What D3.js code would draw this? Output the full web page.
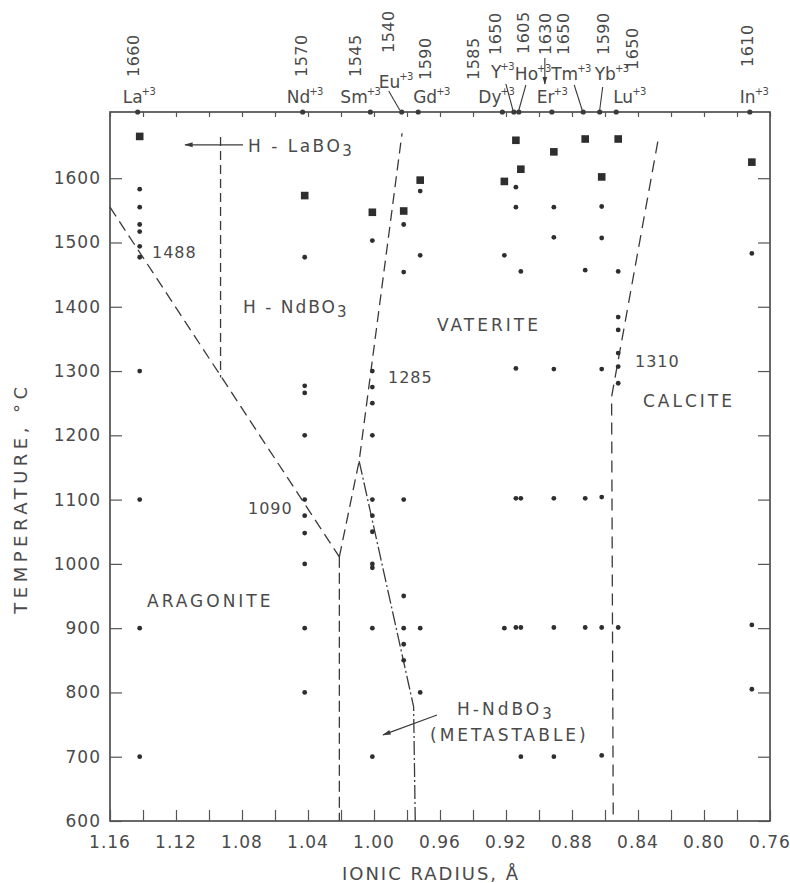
<!DOCTYPE html>
<html>
<head>
<meta charset="utf-8">
<script src="https://cdn.jsdelivr.net/npm/d3@7"></script>
<style>
  body { margin: 0; background: #fff; }
  text { font-family: "DejaVu Sans", sans-serif; fill: #4a4a4a; }
</style>
</head>
<body>
<svg id="chart"></svg>
<script>
// ions along the top axis
const elements = ['La', 'Nd', 'Sm', 'Eu', 'Gd', 'Dy', 'Y', 'Ho', 'Er', 'Tm', 'Yb', 'Lu', 'In'];
const radii = [1.142, 1.042, 1.001, 0.982, 0.972, 0.921, 0.914, 0.911, 0.891, 0.872, 0.862, 0.852, 0.771];
const meltLabels = ['1660', '1570', '1545', '1540', '1590', '1585', '1650', '1605', '1630', '1650', '1590', '1650', '1610'];
// melting points (squares)
const meltTemps = [1665, 1573, 1547, 1549, 1597, 1595, 1659, 1614, 1641, 1661, 1602, 1661, 1625];
// quench runs (dots), one list per ion
const runTemps = [
  [1583, 1555, 1528, 1517, 1494, 1477, 1300, 1100, 900, 700],
  [1477, 1277, 1266, 1200, 1100, 1075, 1048, 1000, 900, 800],
  [1503, 1300, 1275, 1250, 1200, 1100, 1075, 1050, 1000, 994, 900, 700],
  [1528, 1454, 1100, 950, 900, 875, 850],
  [1580, 1480, 900, 800],
  [1480, 900],
  [1586, 1555, 1304, 1102, 901],
  [1455, 1102, 901, 700],
  [1555, 1508, 1303, 1102, 901, 700],
  [1457, 1102, 901],
  [1556, 1507, 1303, 1104, 901, 702],
  [1455, 1384, 1364, 1328, 1307, 1281, 901],
  [1483, 905, 805],
];

// phase boundaries [radius, temperature]
const bdyAragonite = [[1.16, 1555], [1.021, 1011]];
const bdyLaBO3 = [[1.093, 1664], [1.093, 1290]];
const bdyVaterite = [[1.021, 1011], [1.009, 1160], [0.983, 1670]];
const bdyNdVert = [[1.021, 1011], [1.021, 600]];
const bdyMetastable = [[1.009, 1160], [0.976, 778], [0.975, 600]];
const bdyCalcite = [[0.828, 1657], [0.856, 1260], [0.855, 600]];

const xTicks = [1.16, 1.12, 1.08, 1.04, 1.00, 0.96, 0.92, 0.88, 0.84, 0.80, 0.76];
const yTicks = [600, 700, 800, 900, 1000, 1100, 1200, 1300, 1400, 1500, 1600];

// label placement for the top axis: name dx, name baseline, number dx, number bottom, arrow
const topLayout = [
  { ndx: -17, ny: 103, mdx: -7, my: 77 },
  { ndx: -18, ny: 103, mdx: -4, my: 77 },
  { ndx: -32, ny: 103, mdx: -17, my: 77 },
  { ndx: -25, ny: 88, mdx: -16, my: 53, arrow: [-15, 91, -4, 110] },
  { ndx: -7, ny: 103, mdx: 5, my: 80 },
  { ndx: -26, ny: 103, mdx: -31, my: 80 },
  { ndx: -25, ny: 78, mdx: -21, my: 55, arrow: [-10, 84, -3, 110] },
  { ndx: -6, ny: 80, mdx: 2, my: 54, arrow: [5, 85, -2, 110] },
  { ndx: -17, ny: 103, mdx: -9, my: 55, arrow: [-9, 58, -9, 84], head: true },
  { ndx: -34, ny: 80, mdx: -22, my: 55, arrow: [-11, 85, -3, 110] },
  { ndx: -7, ny: 80, mdx: 1, my: 55, arrow: [1, 87, -2, 110] },
  { ndx: -5, ny: 103, mdx: 14, my: 70 },
  { ndx: -12, ny: 103, mdx: -5, my: 67 },
];

const W = 790, H = 883;
const margin = { left: 110, right: 20, top: 112, bottom: 62 };
const ink = '#3a3a3a';

const svg = d3.select('#chart').attr('width', W).attr('height', H);

const x = d3.scaleLinear().domain([1.16, 0.76]).range([margin.left, W - margin.right]);
const y = d3.scaleLinear().domain([600, 1703]).range([H - margin.bottom, margin.top]);

svg.append('defs').append('marker')
  .attr('id', 'head').attr('viewBox', '0 0 10 10').attr('refX', 9).attr('refY', 5)
  .attr('markerWidth', 9).attr('markerHeight', 7).attr('orient', 'auto')
  .append('path').attr('d', 'M0,2 L10,5 L0,8 Z').attr('fill', ink);

// frame
svg.append('rect')
  .attr('x', x(1.16)).attr('y', y(1703))
  .attr('width', x(0.76) - x(1.16)).attr('height', y(600) - y(1703))
  .attr('fill', 'none').attr('stroke', '#444').attr('stroke-width', 1.6);

// axes: ticks point inward
const gx = svg.append('g').attr('transform', `translate(0,${y(600)})`)
  .call(d3.axisBottom(x).tickValues(d3.range(0, 21).map((i) => 1.16 - i * 0.02)).tickSize(-11).tickFormat(''));
const gxTop = svg.append('g').attr('transform', `translate(0,${y(1703)})`)
  .call(d3.axisTop(x).tickValues(d3.range(0, 21).map((i) => 1.16 - i * 0.02)).tickSize(-5).tickFormat(''));
const gy = svg.append('g').attr('transform', `translate(${x(1.16)},0)`)
  .call(d3.axisLeft(y).tickValues(yTicks).tickSize(-12).tickFormat(''));
const gyR = svg.append('g').attr('transform', `translate(${x(0.76)},0)`)
  .call(d3.axisRight(y).tickValues(yTicks).tickSize(-12).tickFormat(''));
[gx, gxTop, gy, gyR].forEach((g) => {
  g.select('.domain').remove();
  g.selectAll('.tick line').attr('stroke', '#555').attr('stroke-width', 1.2);
});

// tick labels
svg.append('g').selectAll('text').data(xTicks).join('text')
  .attr('x', (d) => x(d)).attr('y', y(600) + 27)
  .attr('text-anchor', 'middle').attr('font-size', 17).attr('letter-spacing', 1)
  .text((d) => d.toFixed(2));
svg.append('g').selectAll('text').data(yTicks).join('text')
  .attr('x', x(1.16) - 9).attr('y', (d) => y(d) + 6)
  .attr('text-anchor', 'end').attr('font-size', 17).attr('letter-spacing', 1)
  .text((d) => d);

// axis titles
svg.append('text')
  .attr('transform', `translate(27,498) rotate(-90)`)
  .attr('text-anchor', 'middle').attr('font-size', 18).attr('letter-spacing', 4.5)
  .text('TEMPERATURE, °C');
svg.append('text')
  .attr('x', 431).attr('y', 880)
  .attr('text-anchor', 'middle').attr('font-size', 18).attr('letter-spacing', 2)
  .text('IONIC RADIUS, Å');

// phase boundaries
const line = d3.line().x((d) => x(d[0])).y((d) => y(d[1]));
const bdy = svg.append('g').attr('fill', 'none').attr('stroke', ink).attr('stroke-width', 1.3);
bdy.append('path').attr('d', line(bdyAragonite)).attr('stroke-dasharray', '11,6');
bdy.append('path').attr('d', line(bdyLaBO3)).attr('stroke-dasharray', '9,5');
bdy.append('path').attr('d', line(bdyVaterite)).attr('stroke-dasharray', '11,6');
bdy.append('path').attr('d', line(bdyNdVert)).attr('stroke-dasharray', '11,5');
bdy.append('path').attr('d', line(bdyMetastable)).attr('stroke-dasharray', '14,3,2,3');
bdy.append('path').attr('d', line(bdyCalcite)).attr('stroke-dasharray', '12,7');

// top-axis ion markers
svg.append('g').selectAll('circle').data(radii).join('circle')
  .attr('cx', (d) => x(d) - 2).attr('cy', y(1703)).attr('r', 2.6).attr('fill', ink);

// melting points
svg.append('g').selectAll('rect').data(meltTemps).join('rect')
  .attr('x', (d, i) => x(radii[i]) - 3.8).attr('y', (d) => y(d) - 3.8)
  .attr('width', 7.6).attr('height', 7.6).attr('fill', '#2e2e2e');

// quench runs
const runs = runTemps.flatMap((ts, i) => ts.map((t) => [radii[i], t]));
svg.append('g').selectAll('circle').data(runs).join('circle')
  .attr('cx', (d) => x(d[0])).attr('cy', (d) => y(d[1])).attr('r', 2.4).attr('fill', '#2e2e2e');

// top labels: ions and melting temperatures
const topG = svg.append('g');
elements.forEach((el, i) => {
  const cx = x(radii[i]);
  const L = topLayout[i];
  const t = topG.append('text').attr('x', cx + L.ndx).attr('y', L.ny).attr('font-size', 17);
  t.append('tspan').text(el);
  t.append('tspan').attr('dx', -1).attr('dy', -8).attr('font-size', 10).attr('letter-spacing', -0.5).text('+3');
  topG.append('text')
    .attr('transform', `translate(${cx + L.mdx + 6},${L.my}) rotate(-90)`)
    .attr('font-size', 16).attr('letter-spacing', 0.5)
    .text(meltLabels[i]);
  if (L.arrow) {
    const a = L.arrow;
    topG.append('line')
      .attr('x1', cx + a[0]).attr('y1', a[1]).attr('x2', cx + a[2]).attr('y2', a[3])
      .attr('stroke', ink).attr('stroke-width', 1.1)
      .attr('marker-end', L.head ? 'url(#head)' : null);
  }
});

// field labels
const labels = svg.append('g').attr('font-size', 17).attr('letter-spacing', 3);
const chem = (px, py, parts, sp) => {
  const t = labels.append('text').attr('x', px).attr('y', py).attr('letter-spacing', sp);
  t.append('tspan').text(parts[0]);
  t.append('tspan').attr('dy', 4).attr('font-size', 15).text(parts[1]);
  return t;
};
chem(248, 152, ['H - LaBO', '3'], 2.5);
chem(243, 313, ['H - NdBO', '3'], 2);
chem(457, 715, ['H-NdBO', '3'], 3);
labels.append('text').attr('x', 430).attr('y', 741).text('(METASTABLE)');
labels.append('text').attr('x', 437).attr('y', 331).text('VATERITE');
labels.append('text').attr('x', 643).attr('y', 407).text('CALCITE');
labels.append('text').attr('x', 147).attr('y', 607).text('ARAGONITE');
const nums = svg.append('g').attr('font-size', 16).attr('letter-spacing', 1);
nums.append('text').attr('x', 152).attr('y', 258).text('1488');
nums.append('text').attr('x', 388).attr('y', 383).text('1285');
nums.append('text').attr('x', 248).attr('y', 514).text('1090');
nums.append('text').attr('x', 635).attr('y', 367).text('1310');

// annotation arrows
const arrows = [
  [[1.0794, 1652], [1.1145, 1652]],
  [[0.9618, 765], [0.9945, 734]],
];
svg.append('g').selectAll('line').data(arrows).join('line')
  .attr('x1', (d) => x(d[0][0])).attr('y1', (d) => y(d[0][1]))
  .attr('x2', (d) => x(d[1][0])).attr('y2', (d) => y(d[1][1]))
  .attr('stroke', ink).attr('stroke-width', 1.2).attr('marker-end', 'url(#head)');
</script>
</body>
</html>
